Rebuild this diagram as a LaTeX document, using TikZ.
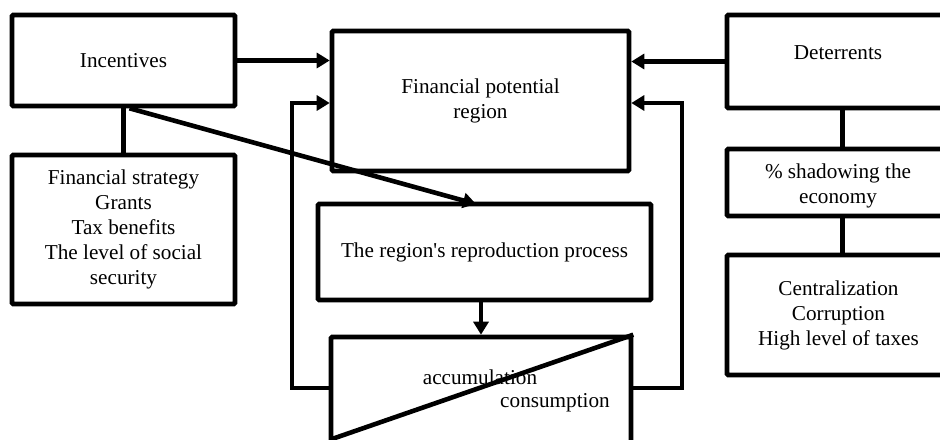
\documentclass[tikz,border=0pt]{standalone}
\usepackage{fontspec}
\setmainfont{Liberation Serif}
\usetikzlibrary{arrows.meta}
\tikzset{
    box/.style={draw, line width=2.3pt, rounded corners=0.6pt, inner sep=0pt, align=center,
        font=\fontsize{10.6}{12.5}\selectfont},
    lbl/.style={inner sep=0pt, align=center, font=\fontsize{10.6}{12.5}\selectfont},
    conn/.style={line width=2.3pt},
    tip/.style={conn, -{Triangle[length=6.5pt,width=7.5pt]}},
}
\begin{document}
\begin{tikzpicture}[x=0.5pt,y=-0.5pt]
\useasboundingbox (0,0) rectangle (940,439);
\clip (0,0) rectangle (940,439);
% left side
\node[box, minimum width=111.5pt, minimum height=45.5pt] (inc) at (123.5,60.5) {Incentives};
\node[box, minimum width=111.5pt, minimum height=74.5pt] (strat) at (123.5,229.5)
    {Financial strategy\\Grants\\Tax benefits\\The level of social\\security};
% middle
\node[box, minimum width=148.5pt, minimum height=70pt] (fin) at (480.5,101)
    {Financial potential\\region};
\node[box, minimum width=166.5pt, minimum height=48pt] (repr) at (484.5,252)
    {The region\textquotesingle s reproduction process};
\node[box, minimum width=150pt, minimum height=61.5pt] (acc) at (481,398.5) {};
\node[lbl] (accum) at (480,377) {accumulation};
\node[lbl] (cons) at (555,403) {consumption};
% right side
\node[box, minimum width=111.5pt, minimum height=46.5pt] (det) at (838.5,61.5) {};
\node[lbl] (detlbl) at (838,53) {Deterrents};
\node[box, minimum width=111.5pt, minimum height=33.5pt] (shad) at (838.5,182.5) {};
\node[lbl] (shadlbl) at (838,186) {\%\ shadowing the\\economy};
\node[box, minimum width=111.5pt, minimum height=60pt] (cent) at (838.5,315)
    {Centralization\\Corruption\\High level of taxes};
% connectors
\coordinate (lloop) at (292,388);
\coordinate (rloop) at (682,388);
\coordinate (dtip) at (476,204);
\coordinate (accbl) at (332,439);
\draw[conn] (inc.south) -- (strat.north);
\draw[tip] (inc.east) -- (inc.east -| fin.west);
\draw[tip] (det.west) -- (det.west -| fin.east);
\draw[tip] ([xshift=3pt]inc.south) -- (dtip);
\draw[tip] (repr.south -| acc.north) -- (acc.north);
\draw[tip] (lloop -| acc.west) -- (lloop) |- ([yshift=-1pt]fin.west);
\draw[tip] (rloop -| acc.east) -- (rloop) |- ([yshift=-1pt]fin.east);
\draw[conn] (acc.north east) -- (accbl);
\draw[conn] ([xshift=2pt]det.south) -- ([xshift=2pt]shad.north);
\draw[conn] ([xshift=2pt]shad.south) -- ([xshift=2pt]cent.north);
\end{tikzpicture}
\end{document}
